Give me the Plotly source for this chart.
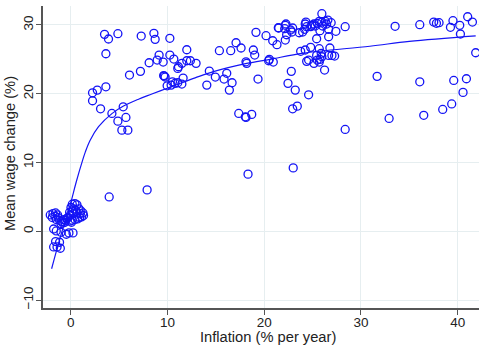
import plotly.graph_objects as go

# Scatter data: inflation (% per year) vs mean wage change (%)
inflation = [
    3.50, 3.91, 4.88, 3.64, 7.29, 8.60, 8.73, 10.25, 12.00, 9.14, 10.25, 10.66, 8.94, 9.56, 8.11,
    11.14, 11.49, 12.00, 12.37, 11.07, 12.96, 6.08, 7.21, 9.66, 9.61, 9.76, 9.97, 10.52, 10.38,
    10.79, 11.07, 11.49, 11.62, 2.26, 2.75, 3.64, 2.26, 3.09, 4.26, 5.43, 5.71, 4.88, 5.29, 5.91,
    7.90, 3.98,
    15.37, 16.54, 17.09, 17.61, 19.15, 20.19, 20.88, 21.32, 21.46, 18.88, 19.02, 14.33, 14.95,
    15.85, 16.13, 16.68, 16.40, 14.07, 18.12, 18.19, 19.36, 20.53, 20.46, 20.94, 17.37, 18.05,
    18.12, 18.71, 18.33, 23.00,
    21.50, 22.12, 22.18, 22.94, 22.87, 22.32, 22.25, 22.73, 22.18, 23.62, 23.97, 24.18, 24.24,
    24.31, 24.39, 24.80, 24.93, 25.14, 25.27, 25.48, 25.69, 25.96, 26.04, 26.31, 26.45, 26.58,
    26.92, 26.66, 26.66, 27.41, 28.37, 25.76, 25.42, 25.96, 23.77, 24.24, 24.39, 24.59, 24.80,
    25.14, 25.42, 25.48, 25.69, 25.76, 25.69, 25.89, 25.96, 26.24, 26.79, 26.66, 27.00, 27.28,
    22.80, 22.46, 23.21, 24.59, 23.42, 22.94, 28.37,
    33.53, 36.08, 37.52, 37.80, 38.07, 39.51, 39.25, 40.21, 41.03, 41.52, 40.28, 41.86, 31.67,
    36.08, 39.59, 40.90, 40.55, 32.91, 36.49, 38.45, 39.38,
    -2.11, -1.83, -1.56, -1.35, -1.90, -1.62, -1.28, -1.49, -1.15, -0.94, -0.73, -1.00, -0.79,
    -0.59, -0.53, -0.38,
    0.17, 0.44, 0.65, 0.03, 0.30, 0.17, -0.11, 0.51, 0.86, 1.06, 1.27, 1.33, 1.12, 0.92, 0.71,
    0.44, 0.17, -0.04, -0.25, -0.04, 0.30, 0.65, 0.99, 0.09,
    -1.76, -1.49, -1.00, -0.45, -0.18, 0.24, -1.56, -1.15, -1.41, -1.07, -1.76,
]
wage_change = [
    28.63, 27.95, 28.72, 25.81, 28.38, 28.78, 27.90, 28.05, 26.39, 25.62, 25.62, 25.04, 24.89,
    24.60, 24.50, 23.92, 24.41, 24.79, 24.79, 23.68, 24.41, 22.71, 23.25, 22.56, 22.63, 22.42,
    21.15, 21.73, 21.25, 21.50, 21.59, 21.40, 22.27, 20.13, 20.52, 21.00, 18.97, 17.80, 17.13,
    18.09, 16.55, 16.01, 14.70, 14.70, 6.01, 4.99,
    26.25, 26.25, 27.41, 26.64, 28.92, 28.43, 27.70, 27.12, 29.59, 26.35, 25.62, 23.29, 22.42,
    22.13, 22.96, 21.59, 20.52, 21.25, 24.64, 24.41, 22.13, 24.99, 24.79, 24.60, 17.13, 16.64,
    16.55, 16.99, 8.30, 9.21,
    29.55, 29.45, 29.94, 29.55, 28.97, 28.57, 30.13, 29.26, 27.80, 28.86, 28.97, 29.36, 30.13,
    30.42, 29.74, 29.74, 29.94, 30.13, 29.84, 30.23, 30.52, 30.42, 29.84, 30.52, 30.13, 30.71,
    30.32, 29.36, 28.28, 29.07, 29.74, 29.16, 27.99, 31.63, 26.16, 26.35, 24.70, 24.89, 26.74,
    24.41, 25.57, 24.89, 26.54, 24.99, 24.60, 25.87, 25.37, 23.44, 26.64, 25.57, 25.57, 25.47,
    23.25, 21.50, 20.52, 19.84, 18.19, 17.80, 14.80,
    29.80, 30.03, 30.42, 30.23, 30.32, 30.61, 29.65, 29.94, 31.19, 30.42, 28.68, 25.95, 22.52,
    21.73, 21.93, 22.17, 20.19, 16.40, 16.86, 17.71, 18.51,
    2.37, 2.57, 2.66, 2.37, 1.99, 2.18, 1.99, 1.70, 1.60, 1.41, 1.70, 1.12, 1.21, 1.31, 1.60, 1.89,
    3.93, 4.03, 3.83, 3.45, 3.25, 2.95, 2.77, 3.06, 3.25, 2.95, 2.66, 2.28, 2.08, 1.99, 1.79,
    1.70, 1.60, 1.50, 1.99, 2.37, 2.57, 2.66, 2.57, 1.31,
    0.33, 0.04, -0.15, -0.44, -0.24, -0.24, -1.50, -1.60, -2.28, -2.47, -2.28,
]

# Fitted curve
fit_x = [-1.97, -1.07, -0.04, 0.58, 1.23, 1.51, 2.00, 2.88, 4.26, 5.46, 7.01, 8.39, 9.97,
         11.49, 12.86, 14.75, 18.19, 20.60, 24.04, 30.92, 35.00, 41.86]
fit_y = [-5.45, -0.85, 3.90, 7.20, 10.30, 11.50, 13.20, 15.20, 17.10, 18.20, 19.20, 19.95,
         20.80, 21.60, 22.30, 23.20, 24.40, 25.00, 25.90, 26.90, 27.60, 28.40]

x_ticks = [0, 10, 20, 30, 40]
y_ticks = [-10, 0, 10, 20, 30]
x_title = "Inflation (% per year)"
y_title = "Mean wage change (%)"

BLUE = "rgb(20,20,245)"
AXIS = "#555555"
GRID = "#e6eef0"
FONT = "Liberation Sans, Arial, sans-serif"

fig = go.Figure()
fig.add_trace(go.Scatter(
    x=inflation, y=wage_change, mode="markers",
    marker=dict(symbol="circle-open", size=8, color=BLUE, line=dict(width=1.3, color=BLUE)),
    showlegend=False, cliponaxis=False,
))
fig.add_trace(go.Scatter(
    x=fit_x, y=fit_y, mode="lines", line=dict(color=BLUE, width=1.2, shape="spline"),
    showlegend=False,
))

fig.update_layout(
    width=479, height=347,
    margin=dict(l=43, r=0, t=6, b=39, autoexpand=False),
    paper_bgcolor="white", plot_bgcolor="white",
    font=dict(family=FONT, size=13, color="#222222"),
    xaxis=dict(
        range=[-2.86, 42.2], tickvals=x_ticks, ticks="outside", ticklen=5, tickwidth=1.2,
        tickcolor=AXIS, showline=True, linecolor=AXIS, linewidth=1.6, gridcolor=GRID,
        gridwidth=1, zeroline=False, tickfont=dict(size=13.5), automargin=False,
        ticklabelstandoff=-4,
    ),
    yaxis=dict(
        range=[-11.16, 32.75], tickvals=y_ticks, tickangle=-90, ticks="outside", ticklen=5,
        tickwidth=1.2, tickcolor=AXIS, showline=True, linecolor=AXIS, linewidth=1.6,
        gridcolor=GRID, gridwidth=1, zeroline=False, tickfont=dict(size=13.5), automargin=False,
        ticklabelstandoff=-2,
    ),
    annotations=[
        dict(text=x_title, xref="paper", yref="paper", x=0.516, y=-0.097,
             xanchor="center", yanchor="middle", showarrow=False, font=dict(size=14.7)),
        dict(text=y_title, xref="paper", yref="paper", x=-0.0757, y=0.513, textangle=-90,
             xanchor="center", yanchor="middle", showarrow=False, font=dict(size=14.7)),
    ],
)

fig.write_html(
    "out.html",
    config={"displayModeBar": False},
    post_script="document.body.style.margin='0';document.body.style.overflow='hidden';",
)
